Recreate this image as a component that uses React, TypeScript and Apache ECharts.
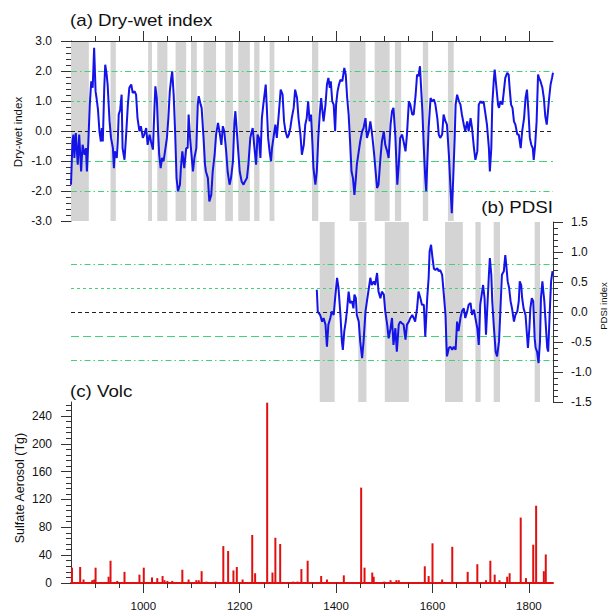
import React, { useEffect, useRef } from "react";
import * as echarts from "echarts";

// ---- data ----
const dwYears = [
  850, 853, 855, 857, 860, 864, 867, 871, 874, 878,
  881, 883, 886, 889, 892, 895, 898, 901, 903, 906,
  909, 912, 914, 916, 919, 921, 924, 926, 930, 933,
  937, 939, 941, 945, 947, 949, 952, 955, 957, 961,
  964, 968, 971, 975, 978, 982, 985, 988, 992, 995,
  999, 1002, 1006, 1009, 1013, 1016, 1020, 1023, 1025, 1028,
  1031, 1033, 1036, 1039, 1042, 1046, 1049, 1052, 1055, 1058,
  1060, 1063, 1066, 1069, 1072, 1076, 1078, 1081, 1085, 1089,
  1092, 1094, 1097, 1100, 1103, 1106, 1110, 1113, 1115, 1119,
  1121, 1125, 1128, 1130, 1134, 1137, 1141, 1144, 1148, 1151,
  1155, 1158, 1162, 1165, 1168, 1172, 1175, 1179, 1182, 1186,
  1189, 1191, 1195, 1200, 1204, 1208, 1211, 1215, 1218, 1222,
  1225, 1227, 1230, 1234, 1237, 1240, 1243, 1246, 1249, 1254,
  1256, 1259, 1262, 1265, 1267, 1270, 1274, 1277, 1281, 1285,
  1289, 1292, 1295, 1299, 1302, 1305, 1308, 1312, 1315, 1319,
  1322, 1326, 1329, 1333, 1336, 1339, 1342, 1345, 1348, 1351,
  1353, 1357, 1360, 1363, 1366, 1369, 1371, 1374, 1378, 1381,
  1384, 1387, 1389, 1392, 1395, 1398, 1400, 1403, 1406, 1409,
  1413, 1417, 1420, 1423, 1426, 1429, 1432, 1435, 1438, 1441,
  1443, 1447, 1450, 1454, 1457, 1461, 1464, 1468, 1471, 1474,
  1477, 1479, 1482, 1485, 1488, 1492, 1495, 1499, 1502, 1506,
  1509, 1513, 1516, 1519, 1523, 1527, 1530, 1533, 1537, 1540,
  1544, 1547, 1551, 1554, 1558, 1561, 1565, 1568, 1571, 1574,
  1576, 1579, 1582, 1585, 1587, 1589, 1592, 1596, 1599, 1603,
  1606, 1610, 1613, 1616, 1620, 1623, 1627, 1630, 1634, 1637,
  1640, 1643, 1646, 1648, 1651, 1655, 1658, 1661, 1665, 1668,
  1672, 1675, 1679, 1682, 1686, 1689, 1693, 1696, 1700, 1703,
  1706, 1710, 1713, 1717, 1719, 1722, 1724, 1727, 1729, 1732,
  1736, 1738, 1741, 1745, 1748, 1751, 1755, 1758, 1760, 1763,
  1766, 1769, 1772, 1776, 1779, 1783, 1786, 1790, 1793, 1796,
  1799, 1802, 1805, 1808, 1810, 1813, 1816, 1819, 1821, 1824,
  1828, 1831, 1834, 1837, 1839, 1842, 1845, 1848, 1850,
];
const dwValues = [
  -1.79, -0.35, -0.12, -0.9, -0.07, -1.12, -0.12, -1.35, -0.46, -0.79,
  -0.57, -1.35, -0.35, 0.88, 1.66, 1.44, 2.77, 1.32, 1.1, 0.71,
  -0.01, -0.35, 0.1, -0.35, 1.44, 2.21, 1.88, 1.55, 0.32, -0.23,
  -0.57, -1.24, -0.68, -0.9, -0.35, 0.55, 0.71, 1.21, -0.57, -0.96,
  -0.23, 0.88, 1.44, 1.55, 1.27, 1.32, 1.21, 0.43, -0.01, 0.16,
  -0.23, -0.12, 0.1, -0.46, -0.12, -0.35, -0.62, 0.71, 1.49, 1.1,
  -0.12, -0.79, -1.24, -0.9, -1.01, -0.57, -0.23, 0.43, 1.32, 1.77,
  1.99, 1.21, -0.01, -1.57, -2.01, -1.79, -1.24, -0.68, -1.24, -0.57,
  -0.57, 0.55, -0.23, -0.79, -1.35, -0.9, -0.57, 0.88, 1.16, 0.88,
  0.77, -0.23, -1.12, -1.35, -1.57, -2.35, -2.13, -1.35, -0.79, -0.12,
  0.27, -0.01, -0.46, 0.16, -0.01, -0.68, -1.35, -1.79, -1.57, -1.01,
  0.3, 0.66, -0.23, -1.35, -1.68, -1.79, -1.68, -1.57, -1.12, -0.23,
  -0.01, 0.1, -0.46, -1.12, -0.12, -0.23, -0.9, 0.43, 0.88, 1.55,
  0.88, -0.23, -0.68, -1.01, -0.57, -0.23, 0.21, -0.23, 0.55, 1.38,
  1.21, 0.32, -0.01, -0.23, -0.12, 0.1, 0.43, 0.77, 1.38, 1.1,
  0.43, -0.12, -0.79, -0.46, 0.21, 0.43, 0.99, 0.32, 0.55, -0.46,
  -1.24, -1.79, -1.35, -0.23, 0.55, 1.1, 0.77, 0.32, 0.88, 1.55,
  1.77, 1.44, 1.66, 0.99, 0.88, -0.01, 0.88, 1.32, 1.55, 1.71,
  1.66, 2.1, 1.88, 1.1, 0.55, -0.35, -1.35, -1.57, -2.13, -1.57,
  -1.12, -0.68, -0.35, -0.01, 0.1, 0.43, -0.23, -0.01, 0.32, -0.01,
  -0.46, -0.79, -1.35, -1.9, -1.79, -0.9, -0.35, -0.01, -0.46, -0.68,
  -0.9, 0.21, 0.66, 0.77, -0.2, -1.79, -1.12, -0.23, -0.12, -0.35,
  -0.68, -0.12, 0.99, 0.88, 0.55, 0.55, 1.21, 1.88, 1.83, 2.16,
  1.55, 0.66, -0.57, -1.57, -2.01, -1.12, 0.1, 1.1, 0.99, 1.05,
  0.88, 0.43, -0.12, -0.23, -0.12, 0.55, 0.32, 0.21, -0.79, -1.79,
  -2.74, -1.57, -0.23, 0.88, 1.21, 0.99, 0.88, 0.55, 0.21, -0.01,
  0.32, -0.01, 0.43, 0.1, -0.57, -0.96, -0.68, 0.88, 0.99, 0.93,
  0.99, 0.55, 0.21, -0.57, -1.35, -0.57, 0.88, 1.66, 2.05, 1.55,
  0.88, 0.77, 0.99, 0.88, 1.32, 1.77, 1.94, 1.88, 1.44, 0.88,
  0.77, 0.32, 0.21, -0.12, -0.12, -0.57, -0.01, 0.43, 1.1, 1.38,
  0.66, -0.23, -0.46, -0.57, -0.96, -0.46, 0.32, 1.88, 1.77, 1.66,
  1.44, 1.1, 0.49, 0.21, 0.55, 1.1, 1.55, 1.77, 1.94,
];

const pdsiYears = [
  1360, 1362, 1364, 1367, 1371, 1374, 1378, 1381, 1384, 1388,
  1391, 1395, 1398, 1402, 1405, 1409, 1412, 1414, 1417, 1420,
  1423, 1426, 1429, 1433, 1436, 1438, 1441, 1443, 1447, 1450,
  1454, 1457, 1461, 1464, 1468, 1471, 1474, 1478, 1481, 1485,
  1488, 1492, 1495, 1499, 1502, 1506, 1509, 1513, 1516, 1519,
  1523, 1526, 1530, 1533, 1537, 1540, 1544, 1547, 1551, 1554,
  1558, 1561, 1564, 1568, 1571, 1575, 1578, 1582, 1585, 1589,
  1592, 1594, 1597, 1600, 1603, 1606, 1610, 1613, 1616, 1620,
  1623, 1627, 1629, 1630, 1634, 1637, 1641, 1644, 1648, 1651,
  1654, 1658, 1661, 1665, 1668, 1672, 1675, 1679, 1682, 1686,
  1689, 1693, 1696, 1699, 1703, 1705, 1708, 1711, 1713, 1717,
  1719, 1722, 1724, 1727, 1731, 1734, 1738, 1741, 1744, 1748,
  1751, 1753, 1756, 1759, 1762, 1765, 1769, 1772, 1776, 1779,
  1781, 1784, 1786, 1789, 1793, 1796, 1798, 1801, 1803, 1806,
  1809, 1812, 1814, 1817, 1820, 1823, 1825, 1828, 1830, 1832,
  1835, 1838, 1840, 1843, 1846, 1849,
];
const pdsiValues = [
  0.37, 0.01, -0.02, -0.05, -0.16, -0.1, -0.21, -0.58, -0.21, -0.1,
  0.01, -0.05, 0.23, 0.57, 0.4, -0.05, -0.49, -0.63, -0.32, -0.16,
  0.06, 0.34, 0.15, 0.18, 0.06, 0.29, 0.23, -0.05, -0.16, -0.49,
  -0.77, -0.49, 0.01, 0.18, 0.4, 0.57, 0.45, 0.51, 0.45, 0.65,
  0.34, 0.23, 0.34, 0.29, 0.01, -0.21, -0.44, -0.27, -0.1, -0.55,
  -0.27, -0.66, -0.21, -0.16, -0.19, -0.21, -0.46, -0.21, -0.16, -0.1,
  -0.05, -0.1, -0.16, 0.06, 0.34, 0.23, 0.12, 0.12, -0.41, 0.23,
  0.57, 1.01, 1.12, 0.9, 0.72, 0.7, 0.73, 0.68, 0.7, 0.62,
  0.34, -0.05, -0.55, -0.74, -0.6, -0.58, -0.63, -0.58, -0.63, -0.16,
  -0.32, -0.1, 0.01, 0.06, -0.1, 0.01, 0.12, 0.15, -0.05, 0.04,
  -0.1, -0.27, -0.55, 0.12, 0.34, 0.45, 0.23, -0.38, -0.05, 0.62,
  0.9, 0.62, 0.18, -0.21, -0.66, -0.74, -0.49, 0.06, 0.62, 0.68,
  0.95, 0.79, 0.51, 0.4, 0.18, 0.06, -0.16, -0.05, 0.01, 0.18,
  0.51, 0.45, 0.23, 0.06, -0.05, -0.38, -0.6, -0.27, 0.06, 0.23,
  0.18, -0.44, -0.6, -0.66, -0.85, -0.49, 0.23, 0.51, 0.34, 0.18,
  -0.21, -0.6, -0.66, -0.05, 0.51, 0.68,
];

const volcYears = [
  852, 869, 876, 894, 898, 901, 928, 932, 946, 961,
  992, 1001, 1018, 1029, 1040, 1044, 1050, 1060, 1081, 1094,
  1110, 1115, 1121, 1131, 1150, 1166, 1176, 1187, 1194, 1206,
  1226, 1232, 1257, 1268, 1274, 1284, 1311, 1320, 1328, 1341,
  1369, 1381, 1416, 1452, 1459, 1475, 1478, 1500, 1513, 1525,
  1530, 1584, 1592, 1600, 1620, 1641, 1673, 1693, 1711, 1720,
  1729, 1739, 1755, 1760, 1783, 1794, 1809, 1815, 1831, 1835,
];
const volcValues = [
  22, 23, 5, 4, 5, 22, 9, 32, 3, 16,
  12, 22, 8, 7, 10, 4, 3, 3, 19, 5,
  4, 4, 17, 2, 2, 53, 46, 18, 23, 5,
  69, 14, 259, 15, 65, 56, 2, 2, 20, 32,
  10, 5, 11, 137, 22, 15, 9, 2, 4, 4,
  4, 24, 10, 57, 5, 52, 16, 27, 4, 32,
  12, 4, 9, 14, 94, 7, 55, 111, 17, 41,
];

const dwBands = [
  [850, 887], [932, 943], [1010, 1018], [1029, 1050], [1067, 1089],
  [1099, 1111], [1125, 1151], [1170, 1186], [1197, 1221], [1230, 1241],
  [1262, 1272], [1350, 1363], [1428, 1461], [1480, 1511], [1522, 1535],
  [1580, 1591], [1632, 1644],
];
const pdsiBands = [
  [1366, 1397], [1446, 1463], [1501, 1551], [1626, 1663],
  [1689, 1700], [1727, 1740], [1812, 1823],
];

const yearTicks = [1000, 1200, 1400, 1600, 1800];
const volcTicks = [0, 40, 80, 120, 160, 200, 240];
const dwRefLines = [2, 1, -1, -2];
const pdsiRefLines = [0.8, 0.4, -0.4, -0.8];

const FONT = "'Liberation Sans', Arial, Helvetica, sans-serif";
const AXIS_COLOR = "#333";
const GREEN = "#3fd277";
const DASH_DOT = [6, 3, 1.5, 3];
const SHORT_DASH = [3, 3];
const LONG_DASH = [8, 4];

function refLineStyle(i: number) {
  const type = i === 0 || i === 3 ? DASH_DOT : i === 1 ? SHORT_DASH : LONG_DASH;
  return { color: GREEN, width: 1, type };
}

function buildMarkLine(values: number[], frameTop?: number) {
  const data: any[] = [
    ...values.map((v, i) => ({ yAxis: v, lineStyle: refLineStyle(i) })),
    { yAxis: 0, lineStyle: { color: "#222", width: 1, type: [4, 3] } },
  ];
  if (frameTop !== undefined) {
    // frame line along the top edge of the panel (same place as the top axis line)
    data.push({ yAxis: frameTop, lineStyle: { color: AXIS_COLOR, width: 1, type: "solid" } });
  }
  return {
    silent: true,
    symbol: ["none", "none"],
    z: 2,
    label: { show: false },
    data,
  };
}

function buildMarkArea(bands: number[][]) {
  return {
    silent: true,
    itemStyle: { color: "#d4d4d4", opacity: 1 },
    label: { show: false },
    data: bands.map(([s, e]) => [{ xAxis: s }, { xAxis: e }]),
  };
}

const baseX = { type: "value", min: 850, max: 1850, splitNumber: 5 };
const minorTick = { show: true, splitNumber: 4, length: 5, lineStyle: { color: AXIS_COLOR } };

export default function App() {
  const ref = useRef<HTMLDivElement>(null);

  useEffect(() => {
    if (!ref.current) return;
    const chart = echarts.init(ref.current, null, { renderer: "svg" });

    // year axis: long ticks + labels at the listed years, minor ticks every 50 years
    const yearAxis = (gridIndex: number, position: string, labels: boolean, lineColor: string, lineWidth: number) => ({
      ...baseX,
      gridIndex,
      position,
      axisLine: { show: true, onZero: false, lineStyle: { color: lineColor, width: lineWidth } },
      axisTick: { show: true, length: 10, customValues: yearTicks, lineStyle: { color: AXIS_COLOR } },
      minorTick,
      axisLabel: labels
        ? {
            show: true,
            customValues: yearTicks,
            margin: 17,
            fontSize: 11.5,
            fontFamily: FONT,
            color: "#111",
            formatter: (v: number) => String(Math.round(v)),
          }
        : { show: false },
      splitLine: { show: false },
      minorSplitLine: { show: false },
    });

    const yLabel = (margin: number, digits: number) => ({
      show: true,
      margin,
      fontSize: 12,
      fontFamily: FONT,
      color: "#111",
      formatter: (v: number) => v.toFixed(digits),
    });

    const option: any = {
      animation: false,
      backgroundColor: "#ffffff",
      grid: [
        { left: 71, top: 41, width: 482, height: 180, outerBoundsMode: "none" },
        { left: 71, top: 222, width: 482, height: 180, outerBoundsMode: "none" },
        { left: 71, top: 402, width: 482, height: 181, outerBoundsMode: "none" },
      ],
      xAxis: [
        yearAxis(0, "top", false, AXIS_COLOR, 1),
        { ...baseX, gridIndex: 1, show: false, axisLine: { onZero: false }, splitLine: { show: false } },
        yearAxis(2, "bottom", true, "#e01010", 2),
      ],
      yAxis: [
        {
          type: "value",
          gridIndex: 0,
          position: "left",
          min: -3,
          max: 3,
          interval: 1,
          axisLine: { show: true, onZero: false, lineStyle: { color: AXIS_COLOR } },
          axisTick: { show: true, length: 10, lineStyle: { color: AXIS_COLOR } },
          minorTick: { show: true, splitNumber: 5, length: 5, lineStyle: { color: AXIS_COLOR } },
          axisLabel: yLabel(19, 1),
          splitLine: { show: false },
        },
        {
          type: "value",
          gridIndex: 1,
          position: "right",
          min: -1.5,
          max: 1.5,
          interval: 0.5,
          axisLine: { show: true, onZero: false, lineStyle: { color: AXIS_COLOR } },
          axisTick: { show: true, length: 10, lineStyle: { color: AXIS_COLOR } },
          minorTick: { show: true, splitNumber: 5, length: 5, lineStyle: { color: AXIS_COLOR } },
          axisLabel: yLabel(18, 1),
          splitLine: { show: false },
        },
        {
          type: "value",
          gridIndex: 2,
          position: "left",
          min: 0,
          max: 260,
          interval: 40,
          axisLine: { show: true, onZero: false, lineStyle: { color: AXIS_COLOR } },
          axisTick: { show: true, length: 10, customValues: volcTicks, lineStyle: { color: AXIS_COLOR } },
          minorTick: { show: true, splitNumber: 5, length: 5, lineStyle: { color: AXIS_COLOR } },
          axisLabel: { ...yLabel(19, 0), customValues: volcTicks },
          splitLine: { show: false },
        },
      ],
      series: [
        {
          name: "Dry-wet index",
          type: "line",
          xAxisIndex: 0,
          yAxisIndex: 0,
          data: dwYears.map((y, i) => [y, dwValues[i]]),
          showSymbol: false,
          symbol: "none",
          z: 3,
          lineStyle: { color: "#1414e8", width: 2 },
          markArea: buildMarkArea(dwBands),
          markLine: buildMarkLine(dwRefLines, 3),
        },
        {
          name: "PDSI",
          type: "line",
          xAxisIndex: 1,
          yAxisIndex: 1,
          data: pdsiYears.map((y, i) => [y, pdsiValues[i]]),
          showSymbol: false,
          symbol: "none",
          z: 3,
          lineStyle: { color: "#1414e8", width: 2 },
          markArea: buildMarkArea(pdsiBands),
          markLine: buildMarkLine(pdsiRefLines),
        },
        {
          name: "Volc",
          type: "bar",
          xAxisIndex: 2,
          yAxisIndex: 2,
          barWidth: 2,
          data: volcYears.map((y, i) => [y, volcValues[i]]),
          itemStyle: { color: "#e01010" },
          z: 3,
        },
      ],
      graphic: [
        {
          type: "text",
          x: 70,
          y: 20,
          scaleX: 1.17,
          style: { text: "(a) Dry-wet index", fontSize: 16, fontFamily: FONT, fill: "#111", align: "left", verticalAlign: "middle" },
        },
        {
          type: "text",
          x: 553,
          y: 207,
          scaleX: 1.17,
          style: { text: "(b) PDSI", fontSize: 16, fontFamily: FONT, fill: "#111", align: "right", verticalAlign: "middle" },
        },
        {
          type: "text",
          x: 70,
          y: 391,
          scaleX: 1.17,
          style: { text: "(c) Volc", fontSize: 16, fontFamily: FONT, fill: "#111", align: "left", verticalAlign: "middle" },
        },
        {
          type: "text",
          x: 18,
          y: 132,
          rotation: Math.PI / 2,
          style: { text: "Dry-wet index", fontSize: 11.5, fontFamily: FONT, fill: "#111", align: "center", verticalAlign: "middle" },
        },
        {
          type: "text",
          x: 603,
          y: 306,
          rotation: Math.PI / 2,
          style: { text: "PDSI index", fontSize: 9.5, fontFamily: FONT, fill: "#111", align: "center", verticalAlign: "middle" },
        },
        {
          type: "text",
          x: 20,
          y: 488,
          rotation: Math.PI / 2,
          style: { text: "Sulfate Aerosol (Tg)", fontSize: 12.5, fontFamily: FONT, fill: "#111", align: "center", verticalAlign: "middle" },
        },
      ],
    };

    chart.setOption(option);
    return () => {
      chart.dispose();
    };
  }, []);

  return (
    <div
      ref={ref}
      style={{ position: "absolute", left: 0, top: 0, width: 609, height: 615, background: "#fff" }}
    />
  );
}
